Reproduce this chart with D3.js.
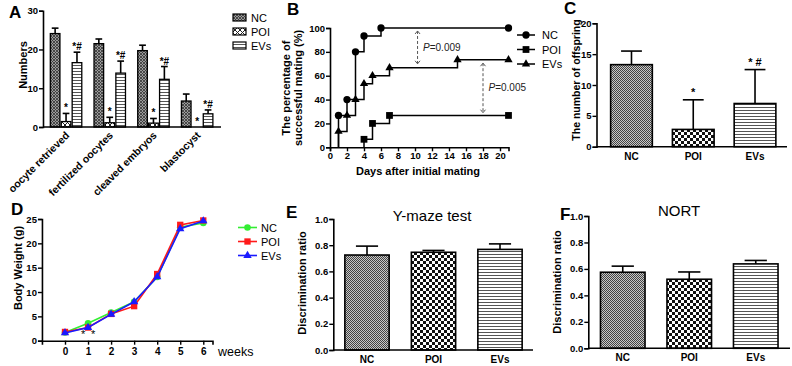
<!DOCTYPE html>
<html>
<head>
<meta charset="utf-8">
<script src="https://cdn.jsdelivr.net/npm/d3@7"></script>
<style>
  body { margin: 0; background: #fff; }
  text { font-family: "Liberation Sans", Arial, sans-serif; }
</style>
</head>
<body>
<svg id="fig"></svg>
<script>
// ---- data ----
const groups = ["NC", "POI", "EVs"];

// A: embryo numbers
const stagesA = ["oocyte retrieved", "fertilized oocytes", "cleaved embryos", "blastocyst"];
const meanA_NC = [24.1, 21.5, 19.7, 6.7];
const sdA_NC = [1.4, 1.2, 1.4, 1.8];
const meanA_POI = [1.4, 1.1, 1.0, 0];
const sdA_POI = [2.1, 1.4, 1.2, 0];
const meanA_EVs = [16.6, 13.9, 12.3, 3.4];
const sdA_EVs = [2.7, 3.1, 3.3, 1.0];

// B: cumulative successful mating (%)
const daysNC = [1, 2, 3, 4, 6, 21];
const pctNC = [26.7, 40, 80, 93.3, 100, 100];
const daysPOI = [4, 5, 7, 21];
const pctPOI = [6.7, 20, 26.7, 26.7];
const daysEVs = [1, 2, 3, 4, 5, 7, 15, 21];
const pctEVs = [13.3, 26.7, 40, 53.3, 60, 66.7, 73.3, 73.3];
const pArrows = [
  { day: 10.3, from: 97.5, to: 70, label: "0.009" },
  { day: 18, from: 70.5, to: 29, label: "0.005" }
];

// C: offspring
const offMean = [13.3, 2.8, 7.0];
const offSD = [2.2, 4.8, 5.5];
const offMarks = ["", "*", "* #"];

// D: body weight
const weeks = [0, 1, 2, 3, 4, 5, 6];
const bwNC = [1.7, 3.6, 5.8, 8.0, 13.1, 23.3, 24.2];
const bwPOI = [1.8, 2.7, 5.5, 7.1, 13.7, 23.8, 24.7];
const bwEVs = [1.6, 2.7, 5.4, 8.0, 13.1, 23.0, 24.6];

// E, F: discrimination ratio
const ymazeMean = [0.725, 0.746, 0.768];
const ymazeSD = [0.068, 0.014, 0.042];
const nortMean = [0.575, 0.522, 0.638];
const nortSD = [0.046, 0.055, 0.026];

// ---- svg ----
const svg = d3.select("#fig").attr("width", 792).attr("height", 366);
const defs = svg.append("defs");

// fine checker (NC)
const pNC = defs.append("pattern").attr("id", "pNC").attr("patternUnits", "userSpaceOnUse")
  .attr("width", 2).attr("height", 2);
pNC.append("rect").attr("width", 2).attr("height", 2).attr("fill", "#c8c8c8");
pNC.append("rect").attr("width", 1).attr("height", 1).attr("fill", "#444");
pNC.append("rect").attr("x", 1).attr("y", 1).attr("width", 1).attr("height", 1).attr("fill", "#444");

// coarse checker (POI)
const pPOI = defs.append("pattern").attr("id", "pPOI").attr("patternUnits", "userSpaceOnUse")
  .attr("width", 6).attr("height", 6);
pPOI.append("rect").attr("width", 6).attr("height", 6).attr("fill", "#fff");
pPOI.append("rect").attr("width", 3).attr("height", 3).attr("fill", "#111");
pPOI.append("rect").attr("x", 3).attr("y", 3).attr("width", 3).attr("height", 3).attr("fill", "#111");

// horizontal lines (EVs)
const pEVs = defs.append("pattern").attr("id", "pEVs").attr("patternUnits", "userSpaceOnUse")
  .attr("width", 4).attr("height", 3);
pEVs.append("rect").attr("width", 4).attr("height", 3).attr("fill", "#fff");
pEVs.append("rect").attr("y", 2).attr("width", 4).attr("height", 1).attr("fill", "#555");

// panel A variants: dark diagonal weave and white crosses
const pNCa = defs.append("pattern").attr("id", "pNCa").attr("patternUnits", "userSpaceOnUse")
  .attr("width", 3).attr("height", 3);
pNCa.append("rect").attr("width", 3).attr("height", 3).attr("fill", "#9a9a9a");
pNCa.append("path").attr("d", "M0,0L3,3M0,3L3,0").attr("stroke", "#333").attr("stroke-width", 0.8);

const pPOIa = defs.append("pattern").attr("id", "pPOIa").attr("patternUnits", "userSpaceOnUse")
  .attr("width", 5).attr("height", 5);
pPOIa.append("rect").attr("width", 5).attr("height", 5).attr("fill", "#fff");
pPOIa.append("path").attr("d", "M0,0L5,5M0,5L5,0").attr("stroke", "#222").attr("stroke-width", 1);

const fills = { NC: "url(#pNC)", POI: "url(#pPOI)", EVs: "url(#pEVs)" };
const fillsA = { NC: "url(#pNCa)", POI: "url(#pPOIa)", EVs: "url(#pEVs)" };

// ---- helpers ----
function styleAxis(g, size) {
  g.selectAll(".domain").attr("stroke", "#000").attr("stroke-width", 1.6);
  g.selectAll(".tick line").attr("stroke", "#000").attr("stroke-width", 1.4);
  g.selectAll(".tick text").attr("fill", "#000")
    .style("font-size", (size || 9.5) + "px").style("font-weight", "bold");
}

function panelLetter(x, y, s) {
  svg.append("text").attr("x", x).attr("y", y).text(s)
    .style("font-size", "17px").style("font-weight", "bold");
}

function yLabel(x, y, s, size) {
  svg.append("text").attr("transform", `translate(${x},${y}) rotate(-90)`)
    .attr("text-anchor", "middle").text(s)
    .style("font-size", (size || 11) + "px").style("font-weight", "bold");
}

function errBar(g, cx, y0, y1, capW) {
  g.append("line").attr("x1", cx).attr("x2", cx).attr("y1", y0).attr("y2", y1)
    .attr("stroke", "#000").attr("stroke-width", 1.6);
  g.append("line").attr("x1", cx - capW / 2).attr("x2", cx + capW / 2).attr("y1", y1).attr("y2", y1)
    .attr("stroke", "#000").attr("stroke-width", 1.6);
}

// simple three-bar panel (C, E, F)
function barPanel(o) {
  const g = svg.append("g");
  const x = d3.scaleBand().domain(groups).range(o.xr).paddingInner(o.pad).paddingOuter(o.pad / 2);
  const y = d3.scaleLinear().domain([0, o.ymax]).range(o.yr);

  g.selectAll("rect.bar").data(groups).enter().append("rect")
    .attr("class", "bar")
    .attr("x", d => x(d))
    .attr("y", (d, i) => y(o.mean[i]))
    .attr("width", x.bandwidth())
    .attr("height", (d, i) => y(0) - y(o.mean[i]))
    .attr("fill", d => fills[d])
    .attr("stroke", "#000").attr("stroke-width", 1.6);

  groups.forEach((d, i) => {
    const cx = x(d) + x.bandwidth() / 2;
    errBar(g, cx, y(o.mean[i]), y(o.mean[i] + o.sd[i]), x.bandwidth() / 2);
    if (o.marks && o.marks[i]) {
      g.append("text").attr("x", cx).attr("y", y(o.mean[i] + o.sd[i]) - 4)
        .attr("text-anchor", "middle").text(o.marks[i])
        .style("font-size", "11px").style("font-weight", "bold");
    }
  });

  const ya = g.append("g").attr("transform", `translate(${o.axisX},0)`)
    .call(d3.axisLeft(y).tickValues(o.ticks).tickFormat(o.fmt).tickSizeOuter(0).tickSize(4).tickPadding(1));
  styleAxis(ya);

  g.append("line").attr("x1", o.axisX).attr("x2", o.xEnd).attr("y1", y(0)).attr("y2", y(0))
    .attr("stroke", "#000").attr("stroke-width", 1.6);

  g.selectAll("text.cat").data(groups).enter().append("text")
    .attr("class", "cat")
    .attr("x", d => x(d) + x.bandwidth() / 2)
    .attr("y", y(0) + 13)
    .attr("text-anchor", "middle")
    .text(d => d)
    .style("font-size", "10px").style("font-weight", "bold");
  return { x, y };
}

// ---- Panel A ----
(function () {
  const g = svg.append("g");
  const x0 = d3.scaleBand().domain(stagesA).range([44.2, 219]).paddingInner(0.22).paddingOuter(0.11);
  const x1 = d3.scaleBand().domain(groups).range([0, x0.bandwidth()]).padding(0.12);
  const y = d3.scaleLinear().domain([0, 30]).range([127, 10.7]);
  const means = { NC: meanA_NC, POI: meanA_POI, EVs: meanA_EVs };
  const sds = { NC: sdA_NC, POI: sdA_POI, EVs: sdA_EVs };
  const marks = { NC: "", POI: "*", EVs: "*#" };

  stagesA.forEach((s, i) => {
    groups.forEach(k => {
      const bx = x0(s) + x1(k);
      const m = means[k][i], e = sds[k][i];
      if (m > 0) {
        g.append("rect").attr("x", bx).attr("y", y(m)).attr("width", x1.bandwidth())
          .attr("height", y(0) - y(m)).attr("fill", fillsA[k])
          .attr("stroke", "#000").attr("stroke-width", 1.3);
        errBar(g, bx + x1.bandwidth() / 2, y(m), y(m + e), x1.bandwidth() * 0.7);
      }
      if (marks[k]) {
        g.append("text").attr("x", bx + x1.bandwidth() / 2).attr("y", y(m + e) - 2)
          .attr("text-anchor", "middle").text(marks[k])
          .style("font-size", "10px").style("font-weight", "bold");
      }
    });
  });

  const ya = g.append("g").attr("transform", "translate(43,0)")
    .call(d3.axisLeft(y).tickValues([0, 10, 20, 30]).tickSizeOuter(0).tickSize(4).tickPadding(1));
  styleAxis(ya);
  g.append("line").attr("x1", 43).attr("x2", 221).attr("y1", y(0)).attr("y2", y(0))
    .attr("stroke", "#000").attr("stroke-width", 1.6);

  stagesA.forEach(s => {
    const cx = x0(s) + x0.bandwidth() / 2 + 4;
    g.append("text").attr("transform", `translate(${cx},${y(0) + 9}) rotate(-45)`)
      .attr("text-anchor", "end").text(s)
      .style("font-size", "10.5px").style("font-weight", "bold");
  });

  yLabel(27, 65, "Numbers");
  panelLetter(9, 18, "A");

  // legend
  groups.forEach((k, i) => {
    const ly = 17.5 + i * 14;
    g.append("rect").attr("x", 233).attr("y", ly - 3.5).attr("width", 13).attr("height", 7)
      .attr("fill", fillsA[k]).attr("stroke", "#000").attr("stroke-width", 1.2);
    g.append("text").attr("x", 251).attr("y", ly + 4).text(k).style("font-size", "11px");
  });
})();

// ---- Panel B ----
(function () {
  const g = svg.append("g");
  const x = d3.scaleLinear().domain([0, 21]).range([330, 508.5]);
  const y = d3.scaleLinear().domain([0, 100]).range([147.3, 28]);
  const step = d3.line().x(d => x(d[0])).y(d => y(d[1])).curve(d3.curveStepAfter);

  const series = [
    { name: "NC", days: daysNC, pct: pctNC, shape: d3.symbolCircle, size: 42 },
    { name: "POI", days: daysPOI, pct: pctPOI, shape: d3.symbolSquare, size: 46 },
    { name: "EVs", days: daysEVs, pct: pctEVs, shape: d3.symbolTriangle, size: 30 }
  ];

  series.forEach(s => {
    const pts = s.days.map((d, i) => [d, s.pct[i]]);
    g.append("path").attr("d", step([[s.days[0], 0]].concat(pts)))
      .attr("fill", "none").attr("stroke", "#000").attr("stroke-width", 1.5);
    g.selectAll(null).data(pts).enter().append("path")
      .attr("transform", d => `translate(${x(d[0])},${y(d[1])})`)
      .attr("d", d3.symbol().type(s.shape).size(s.size))
      .attr("fill", "#000");
  });

  // dashed double arrows with p values
  pArrows.forEach(a => {
    const ax = x(a.day), yt = y(a.from), yb = y(a.to);
    g.append("line").attr("x1", ax).attr("x2", ax).attr("y1", yt).attr("y2", yb)
      .attr("stroke", "#555").attr("stroke-width", 1).attr("stroke-dasharray", "3,2");
    g.append("path").attr("d", `M${ax - 2.5},${yt + 3}L${ax},${yt}L${ax + 2.5},${yt + 3}`)
      .attr("fill", "none").attr("stroke", "#555").attr("stroke-width", 1);
    g.append("path").attr("d", `M${ax - 2.5},${yb - 3}L${ax},${yb}L${ax + 2.5},${yb - 3}`)
      .attr("fill", "none").attr("stroke", "#555").attr("stroke-width", 1);
    const t = g.append("text").attr("x", ax + 5.5).attr("y", (yt + yb) / 2 + 3.5)
      .style("font-size", "10px").attr("fill", "#222");
    t.append("tspan").style("font-style", "italic").text("P");
    t.append("tspan").text("=" + a.label);
  });

  const xa = g.append("g").attr("transform", `translate(0,${y(0)})`)
    .call(d3.axisBottom(x).tickValues(d3.range(0, 21, 2)).tickSizeOuter(0).tickSize(4).tickPadding(1));
  styleAxis(xa);
  const ya = g.append("g").attr("transform", `translate(${x(0)},0)`)
    .call(d3.axisLeft(y).tickValues([0, 20, 40, 60, 80, 100]).tickSizeOuter(0).tickSize(4).tickPadding(1));
  styleAxis(ya);

  g.append("text").attr("x", 418).attr("y", 175).attr("text-anchor", "middle")
    .text("Days after initial mating").style("font-size", "11px").style("font-weight", "bold");
  yLabel(290, 88, "The percentage of");
  yLabel(302, 88, "successful mating (%)");
  panelLetter(287, 15, "B");

  // legend
  series.forEach((s, i) => {
    const ly = 35 + i * 14.5;
    g.append("line").attr("x1", 517).attr("x2", 535).attr("y1", ly).attr("y2", ly)
      .attr("stroke", "#000").attr("stroke-width", 1.5);
    g.append("path").attr("transform", `translate(526,${ly})`)
      .attr("d", d3.symbol().type(s.shape).size(s.size)).attr("fill", "#000");
    g.append("text").attr("x", 542).attr("y", ly + 4).text(s.name).style("font-size", "11px");
  });
})();

// ---- Panel C ----
barPanel({
  xr: [600.6, 785.9], pad: 0.325, yr: [146.7, 23.3], ymax: 20,
  mean: offMean, sd: offSD, marks: offMarks,
  ticks: [0, 5, 10, 15, 20], fmt: d3.format("d"), axisX: 596.5, xEnd: 787
});
yLabel(580, 80, "The number of offspring", 10.5);
panelLetter(564, 14, "C");

// ---- Panel D ----
(function () {
  const g = svg.append("g");
  const x = d3.scaleLinear().domain([-1, 6.4]).range([41.95, 212.5]);
  const y = d3.scaleLinear().domain([0, 25]).range([340.7, 219]);
  const line = d3.line().x((d, i) => x(weeks[i])).y(d => y(d));

  const series = [
    { name: "NC", vals: bwNC, color: "#33ee33", shape: d3.symbolCircle, size: 34 },
    { name: "POI", vals: bwPOI, color: "#ff1a1a", shape: d3.symbolSquare, size: 40 },
    { name: "EVs", vals: bwEVs, color: "#1a1aff", shape: d3.symbolTriangle, size: 30 }
  ];

  series.forEach(s => {
    g.append("path").attr("d", line(s.vals)).attr("fill", "none")
      .attr("stroke", s.color).attr("stroke-width", 1.6);
    g.selectAll(null).data(s.vals).enter().append("path")
      .attr("transform", (d, i) => `translate(${x(weeks[i])},${y(d)})`)
      .attr("d", d3.symbol().type(s.shape).size(s.size)).attr("fill", s.color);
  });

  const xa = g.append("g").attr("transform", `translate(0,${y(0)})`)
    .call(d3.axisBottom(x).tickValues(weeks).tickSizeOuter(0).tickSize(4).tickPadding(3));
  styleAxis(xa, 10);
  const ya = g.append("g").attr("transform", `translate(${x(-1)},0)`)
    .call(d3.axisLeft(y).tickValues([0, 5, 10, 15, 20, 25]).tickSizeOuter(0).tickSize(4).tickPadding(1));
  styleAxis(ya);

  g.append("text").attr("x", x(1) - 5).attr("y", y(0) - 3).attr("text-anchor", "middle")
    .text("*").style("font-size", "11px");
  g.append("text").attr("x", x(1) + 5).attr("y", y(0) - 3).attr("text-anchor", "middle")
    .text("*").style("font-size", "11px");

  g.append("text").attr("x", 218).attr("y", 356).text("weeks").style("font-size", "12.5px");
  yLabel(22, 268, "Body Weight (g)");
  panelLetter(11, 215, "D");

  series.forEach((s, i) => {
    const ly = 227.5 + i * 14;
    g.append("line").attr("x1", 238).attr("x2", 257).attr("y1", ly).attr("y2", ly)
      .attr("stroke", s.color).attr("stroke-width", 1.6);
    g.append("path").attr("transform", `translate(247.5,${ly})`)
      .attr("d", d3.symbol().type(s.shape).size(s.size)).attr("fill", s.color);
    g.append("text").attr("x", 261).attr("y", ly + 4).text(s.name).style("font-size", "11px");
  });
})();

// ---- Panel E ----
barPanel({
  xr: [333.75, 533.25], pad: 0.334, yr: [350, 219], ymax: 1,
  mean: ymazeMean, sd: ymazeSD,
  ticks: [0, 0.2, 0.4, 0.6, 0.8, 1.0], fmt: d3.format(".1f"), axisX: 333.3, xEnd: 533
});
svg.append("text").attr("x", 432).attr("y", 221).attr("text-anchor", "middle")
  .text("Y-maze test").style("font-size", "15px");
yLabel(306, 283, "Discrimination ratio");
panelLetter(286, 218, "E");

// ---- Panel F ----
barPanel({
  xr: [589.5, 789], pad: 0.33, yr: [348.3, 216], ymax: 1,
  mean: nortMean, sd: nortSD,
  ticks: [0, 0.2, 0.4, 0.6, 0.8, 1.0], fmt: d3.format(".1f"), axisX: 588.3, xEnd: 790
});
svg.append("text").attr("x", 679).attr("y", 216).attr("text-anchor", "middle")
  .text("NORT").style("font-size", "15px");
yLabel(561, 282, "Discrimination ratio");
panelLetter(560, 220, "F");
</script>
</body>
</html>
